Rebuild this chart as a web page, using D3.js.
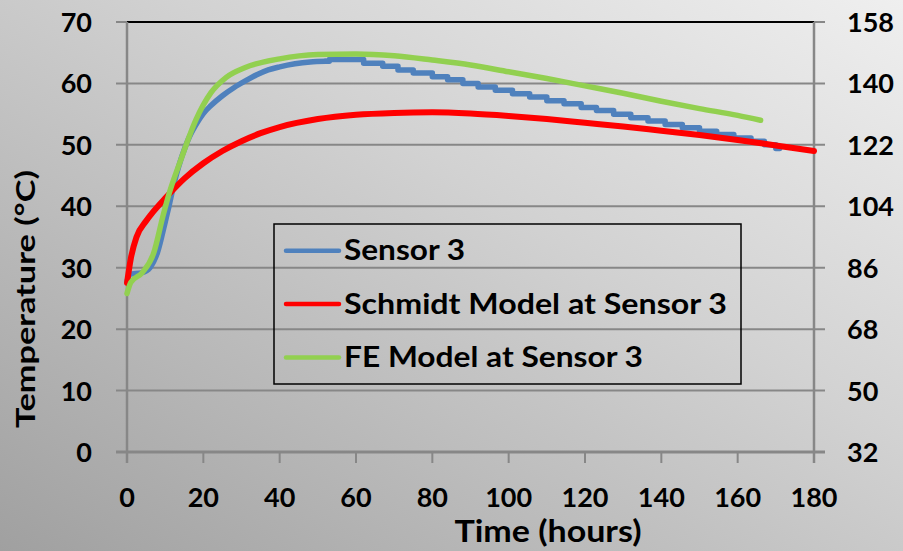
<!DOCTYPE html>
<html>
<head>
<meta charset="utf-8">
<script src="https://cdn.jsdelivr.net/npm/d3@7"></script>
<style>
  body { margin: 0; }
  svg { display: block; font-family: Lato, "Open Sans", sans-serif; font-weight: 700; }
</style>
</head>
<body>
<div id="chart"></div>
<script>
"use strict";

var width = 903;
var height = 551;

// x ticks and both y-axis tick labels
var timeTicks = [0, 20, 40, 60, 80, 100, 120, 140, 160, 180];
var celsiusTicks = [0, 10, 20, 30, 40, 50, 60, 70];
var fahrenheitTicks = [32, 50, 68, 86, 104, 122, 140, 158];

var seriesNames = ["Sensor 3", "Schmidt Model at Sensor 3", "FE Model at Sensor 3"];
var seriesColors = ["#4f81bd", "#ff0000", "#92d050"];

// Sensor 3 - rising part (smooth) then the stepped logger readings
var sensorRiseTime = [0, 0.7, 4, 6, 7, 8, 9, 10, 11, 12, 13, 14, 15, 16, 18, 20, 22, 25, 28, 31, 34, 37, 40, 44, 48, 52];
var sensorRiseTemp = [27.8, 28.9, 29.2, 30.0, 31.0, 32.5, 34.8, 37.4, 40.0, 42.8, 45.3, 47.4, 49.2, 50.8, 53.2, 55.1, 56.4, 58.0, 59.3, 60.4, 61.4, 62.2, 62.7, 63.2, 63.5, 63.6];
var sensorStepTime = [52, 53, 62, 67, 71, 75, 80, 84, 88, 92, 96.5, 101, 105.5, 110, 114.5, 119, 123, 127.5, 132, 136.5, 141, 145.5, 150, 154.5, 159, 163.5, 167, 170, 171];
var sensorStepTemp = [63.6, 63.9, 63.3, 62.8, 62.2, 61.7, 61.1, 60.6, 60.0, 59.4, 58.9, 58.3, 57.8, 57.2, 56.7, 56.1, 55.6, 55.0, 54.4, 53.9, 53.3, 52.8, 52.2, 51.7, 51.1, 50.6, 50.0, 49.4, 49.4];

// Schmidt model
var schmidtTime = [0, 1, 2.5, 5, 7, 10, 15, 20, 25, 30, 35, 40, 50, 60, 70, 80, 90, 100, 110, 120, 130, 140, 150, 160, 170, 180];
var schmidtTemp = [27.5, 31.5, 35.0, 37.6, 39.2, 41.3, 44.5, 47.0, 49.0, 50.6, 51.9, 52.9, 54.2, 54.9, 55.2, 55.3, 55.1, 54.7, 54.2, 53.6, 53.0, 52.3, 51.6, 50.8, 49.9, 49.0];

// FE model
var feTime = [0, 1, 4, 7, 9.5, 11, 14, 18, 22, 26, 31, 40, 50, 60, 70, 80, 90, 100, 110, 120, 130, 140, 150, 160, 166];
var feTemp = [25.8, 27.6, 29.2, 32.4, 38.6, 42.0, 47.4, 54.0, 58.5, 61.0, 62.6, 64.0, 64.7, 64.8, 64.5, 63.8, 63.0, 61.9, 60.8, 59.6, 58.4, 57.1, 55.9, 54.8, 54.0];

var plotLeft = 127, plotRight = 814, plotTop = 22, plotBottom = 452;

var xScale = d3.scaleLinear().domain([0, 180]).range([plotLeft, plotRight]);
var yScale = d3.scaleLinear().domain([0, 70]).range([plotBottom, plotTop]);
var yScaleF = d3.scaleLinear().domain([32, 158]).range([plotBottom, plotTop]);

var svg = d3.select("#chart")
  .append("svg")
  .attr("width", width)
  .attr("height", height);

// gray gradient background
var grad = svg.append("defs").append("linearGradient")
  .attr("id", "bg")
  .attr("x1", 0).attr("y1", 1)
  .attr("x2", 1).attr("y2", 0);
grad.append("stop").attr("offset", "0%").attr("stop-color", "#a0a0a0");
grad.append("stop").attr("offset", "60%").attr("stop-color", "#d2d2d2");
grad.append("stop").attr("offset", "100%").attr("stop-color", "#efefef");

svg.append("rect")
  .attr("width", width)
  .attr("height", height)
  .attr("fill", "url(#bg)");

// gridlines (with the small tick stubs on both sides)
svg.append("g")
  .selectAll("line")
  .data(celsiusTicks.slice(1, -1))
  .enter()
  .append("line")
  .attr("x1", plotLeft - 11)
  .attr("x2", plotRight + 11)
  .attr("y1", function(d) { return yScale(d); })
  .attr("y2", function(d) { return yScale(d); })
  .attr("stroke", "#878787")
  .attr("stroke-width", 2);

// top gridline stubs + black top border
svg.append("line")
  .attr("x1", plotLeft - 11).attr("x2", plotRight + 11)
  .attr("y1", yScale(70)).attr("y2", yScale(70))
  .attr("stroke", "#878787").attr("stroke-width", 2);
svg.append("line")
  .attr("x1", plotLeft).attr("x2", plotRight)
  .attr("y1", yScale(70)).attr("y2", yScale(70))
  .attr("stroke", "#000").attr("stroke-width", 2);

// left and right axis lines
svg.append("line")
  .attr("x1", plotLeft).attr("x2", plotLeft)
  .attr("y1", plotTop).attr("y2", plotBottom + 11)
  .attr("stroke", "#878787").attr("stroke-width", 2.5);
svg.append("line")
  .attr("x1", plotRight).attr("x2", plotRight)
  .attr("y1", plotTop).attr("y2", plotBottom + 11)
  .attr("stroke", "#878787").attr("stroke-width", 2.5);

// bottom axis
svg.append("line")
  .attr("x1", plotLeft - 11).attr("x2", plotRight + 11)
  .attr("y1", plotBottom).attr("y2", plotBottom)
  .attr("stroke", "#878787").attr("stroke-width", 3);

svg.append("g")
  .selectAll("line")
  .data(timeTicks)
  .enter()
  .append("line")
  .attr("x1", function(d) { return xScale(d); })
  .attr("x2", function(d) { return xScale(d); })
  .attr("y1", plotBottom)
  .attr("y2", plotBottom + 11)
  .attr("stroke", "#878787")
  .attr("stroke-width", 2);

// tick labels
svg.append("g")
  .selectAll("text")
  .data(celsiusTicks)
  .enter()
  .append("text")
  .attr("x", 92)
  .attr("y", function(d) { return yScale(d) + 10; })
  .attr("text-anchor", "end")
  .style("font-size", "27px")
  .text(function(d) { return d; });

svg.append("g")
  .selectAll("text")
  .data(fahrenheitTicks)
  .enter()
  .append("text")
  .attr("x", 847)
  .attr("y", function(d) { return yScaleF(d) + 10; })
  .attr("text-anchor", "start")
  .style("font-size", "27px")
  .text(function(d) { return d; });

svg.append("g")
  .selectAll("text")
  .data(timeTicks)
  .enter()
  .append("text")
  .attr("x", function(d) { return xScale(d); })
  .attr("y", 507)
  .attr("text-anchor", "middle")
  .style("font-size", "27px")
  .text(function(d) { return d; });

// axis titles
svg.append("text")
  .attr("x", 548)
  .attr("y", 542)
  .attr("text-anchor", "middle")
  .attr("textLength", 187)
  .attr("lengthAdjust", "spacingAndGlyphs")
  .style("font-size", "30px")
  .text("Time (hours)");

svg.append("text")
  .attr("transform", "translate(35,299) rotate(-90)")
  .attr("text-anchor", "middle")
  .attr("textLength", 258)
  .attr("lengthAdjust", "spacingAndGlyphs")
  .style("font-size", "27px")
  .text("Temperature (°C)");

// series
function zipPoints(ts, vs) {
  return ts.map(function(t, i) { return [t, vs[i]]; });
}

var smoothLine = d3.line()
  .x(function(d) { return xScale(d[0]); })
  .y(function(d) { return yScale(d[1]); })
  .curve(d3.curveMonotoneX);

var stepLine = d3.line()
  .x(function(d) { return xScale(d[0]); })
  .y(function(d) { return yScale(d[1]); })
  .curve(d3.curveStepAfter);

var plot = svg.append("g")
  .attr("fill", "none")
  .attr("stroke-linecap", "round")
  .attr("stroke-linejoin", "round");

plot.append("path")
  .attr("d", smoothLine(zipPoints(sensorRiseTime, sensorRiseTemp)))
  .attr("stroke", seriesColors[0])
  .attr("stroke-width", 5.5);
plot.append("path")
  .attr("d", stepLine(zipPoints(sensorStepTime, sensorStepTemp)))
  .attr("stroke", seriesColors[0])
  .attr("stroke-width", 5.5);

plot.append("path")
  .attr("d", smoothLine(zipPoints(schmidtTime, schmidtTemp)))
  .attr("stroke", seriesColors[1])
  .attr("stroke-width", 6);

plot.append("path")
  .attr("d", smoothLine(zipPoints(feTime, feTemp)))
  .attr("stroke", seriesColors[2])
  .attr("stroke-width", 5.5);

// legend
var legend = svg.append("g");
legend.append("rect")
  .attr("x", 274).attr("y", 224)
  .attr("width", 467).attr("height", 160)
  .attr("fill", "none")
  .attr("stroke", "#000")
  .attr("stroke-width", 1.5);

var legendWidths = [121, 383, 299];
seriesNames.forEach(function(name, i) {
  var ly = 250.7 + i * 53.4;
  legend.append("line")
    .attr("x1", 286).attr("x2", 339)
    .attr("y1", ly).attr("y2", ly)
    .attr("stroke", seriesColors[i])
    .attr("stroke-width", 4.5)
    .attr("stroke-linecap", "round");
  legend.append("text")
    .attr("x", 344)
    .attr("y", ly + 9.5)
    .attr("textLength", legendWidths[i])
    .attr("lengthAdjust", "spacingAndGlyphs")
    .style("font-size", "28px")
    .text(name);
});
</script>
</body>
</html>
